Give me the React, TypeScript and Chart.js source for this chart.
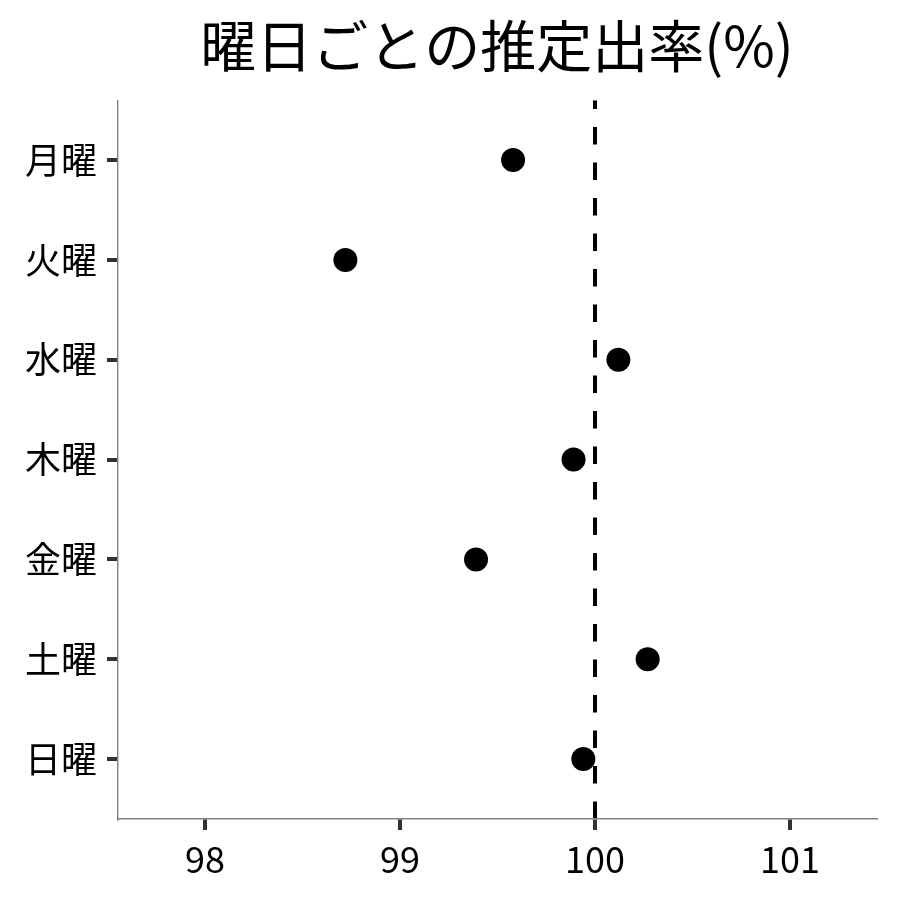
import React, { useEffect, useRef } from "react";
import { Chart, registerables } from "chart.js";

Chart.register(...registerables);

const TITLE = "曜日ごとの推定出率(%)";
const DAYS = ["月曜", "火曜", "水曜", "木曜", "金曜", "土曜", "日曜"];
const RATES = [99.58, 98.72, 100.12, 99.89, 99.39, 100.27, 99.94];
const X_TICKS = [98, 99, 100, 101];
const X_MIN = 97.554;
const X_MAX = 101.441;
const REF_LINE = 100;

const FONT = "'Noto Sans CJK JP', 'Noto Sans', sans-serif";

const widenYLabelArea = {
  id: "widenYLabelArea",
  afterLayout(chart: any) {
    const y = chart.scales.y;
    if (y) y.left = 0;
  },
};

export default function App() {
  const ref = useRef<HTMLCanvasElement | null>(null);

  useEffect(() => {
    const canvas = ref.current;
    if (!canvas) return;
    const yMin = -0.6;
    const yMax = DAYS.length - 1 + 0.6;
    const chart = new Chart(canvas, {
      type: "scatter",
      plugins: [widenYLabelArea],
      data: {
        datasets: [
          {
            type: "line",
            data: [
              { x: REF_LINE, y: yMax },
              { x: REF_LINE, y: yMin },
            ],
            borderColor: "#000000",
            borderWidth: 4,
            borderDash: [17.4, 18.1],
            borderCapStyle: "butt",
            pointRadius: 0,
            fill: false,
            order: 2,
          } as any,
          {
            data: RATES.map((v, i) => ({ x: v, y: i })),
            backgroundColor: "#000000",
            borderColor: "#000000",
            borderWidth: 0,
            pointRadius: 12,
            pointHoverRadius: 12,
            order: 1,
          },
        ],
      },
      options: {
        animation: false,
        responsive: false,
        devicePixelRatio: 1,
        events: [],
        layout: { padding: { left: 118, right: 24, top: 0, bottom: 0 } },
        plugins: {
          legend: { display: false },
          tooltip: { enabled: false },
          title: {
            display: true,
            text: TITLE,
            color: "#000000",
            font: { family: FONT, size: 56, weight: "normal" },
            padding: { top: 12, bottom: 21 },
          },
        },
        scales: {
          x: {
            type: "linear",
            min: X_MIN,
            max: X_MAX,
            afterBuildTicks: (s: any) => {
              s.ticks = X_TICKS.map((v) => ({ value: v }));
            },
            afterFit: (s: any) => {
              s.height = 81;
            },
            grid: {
              drawOnChartArea: false,
              drawTicks: true,
              lineWidth: 4,
              color: "#333333",
              tickLength: 11,
              tickWidth: 4,
              tickColor: "#333333",
            },
            border: { display: true, color: "#808080", width: 1.4, z: 1 },
            ticks: {
              color: "#000000",
              padding: 8,
              font: { family: FONT, size: 36 },
              maxRotation: 0,
              autoSkip: false,
              callback: (v: any) => String(v),
            },
          },
          y: {
            type: "linear",
            reverse: true,
            min: yMin,
            max: yMax,
            afterBuildTicks: (s: any) => {
              s.ticks = DAYS.map((_, i) => ({ value: i }));
            },
            afterFit: (s: any) => {
              s.width = 0;
            },
            grid: {
              drawOnChartArea: false,
              drawTicks: true,
              lineWidth: 4,
              color: "#333333",
              tickLength: 11,
              tickWidth: 4,
              tickColor: "#333333",
            },
            border: { display: true, color: "#808080", width: 1.4, z: 1 },
            ticks: {
              color: "#000000",
              padding: 10,
              font: { family: FONT, size: 36 },
              autoSkip: false,
              callback: (v: any) => DAYS[v as number] ?? "",
            },
          },
        },
      },
    });
    return () => chart.destroy();
  }, []);

  return (
    <div style={{ position: "absolute", left: 0, top: 0, width: 900, height: 900, background: "#ffffff" }}>
      <canvas ref={ref} width={900} height={900} style={{ display: "block", width: 900, height: 900 }} />
    </div>
  );
}
